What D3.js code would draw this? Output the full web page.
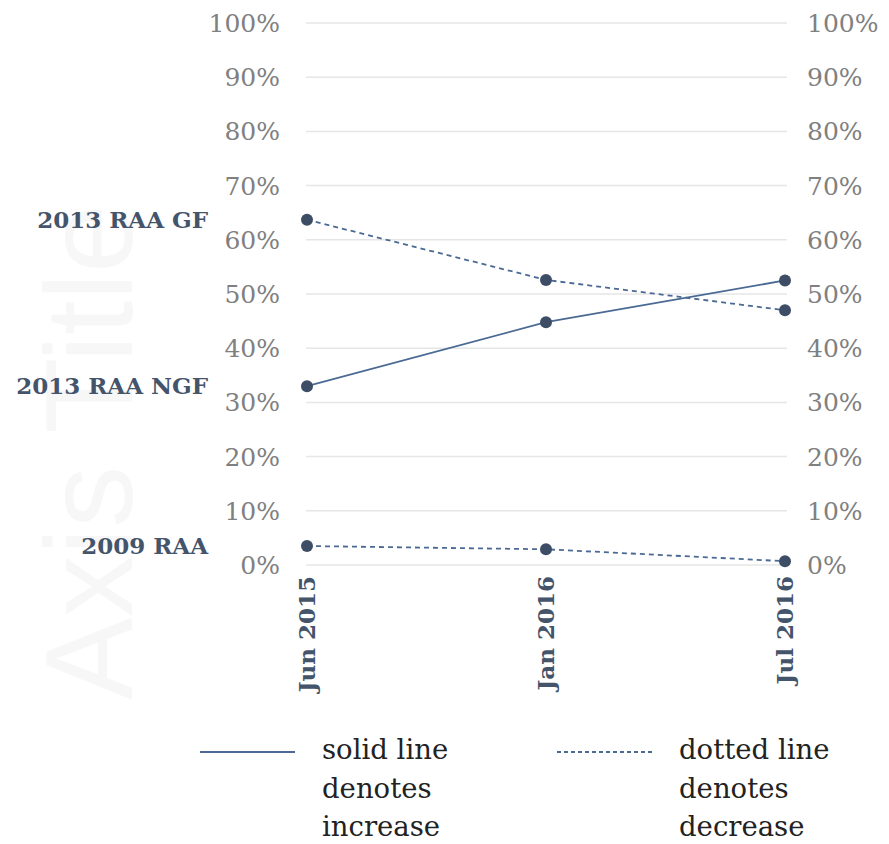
<!DOCTYPE html>
<html>
<head>
<meta charset="utf-8">
<script src="https://cdn.jsdelivr.net/npm/d3@7"></script>
<style>
  body { margin: 0; background: #fff; }
  svg { display: block; }
  .tick-label { font-family: "DejaVu Serif", serif; font-size: 25px; fill: #808080; }
  .cat-label { font-family: "DejaVu Serif", serif; font-weight: bold; font-size: 23px; fill: #44546a; }
  .legend-text { font-family: "DejaVu Serif", serif; font-size: 27.5px; fill: #222; }
</style>
</head>
<body>
<div id="chart-area"></div>
<script>
// data
var periods = ["Jun 2015", "Jan 2016", "Jul 2016"];
var seriesNames = ["2013 RAA GF", "2013 RAA NGF", "2009 RAA"];
var gfValues = [0.637, 0.526, 0.470];
var ngfValues = [0.330, 0.448, 0.525];
var raa2009Values = [0.035, 0.029, 0.007];
var yTicks = [0, 0.1, 0.2, 0.3, 0.4, 0.5, 0.6, 0.7, 0.8, 0.9, 1];
var legendLabels = [["solid line", "denotes", "increase"], ["dotted line", "denotes", "decrease"]];

var seriesList = [
	{name: seriesNames[0], values: gfValues, dashed: true},
	{name: seriesNames[1], values: ngfValues, dashed: false},
	{name: seriesNames[2], values: raa2009Values, dashed: true}
];

//svg setting
var W = 889, H = 844;
var svg = d3.select("#chart-area")
	.append("svg")
		.attr("width", W)
		.attr("height", H);

//scales
var x = d3.scalePoint().domain(periods).range([307, 785]);
var y = d3.scaleLinear().domain([0, 1]).range([565, 23]);

var lineColor = "#4b6a93", dotColor = "#3e4d66";

// watermark axis title (very faint)
svg.append("text")
	.attr("transform", "translate(132,452) rotate(-90)")
	.attr("text-anchor", "middle")
	.style("font-family", "Liberation Sans, Arial, sans-serif")
	.style("font-size", "124px")
	.attr("fill", "#f7f7f7")
	.text("Axis Title");

//gridlines
svg.append("g").selectAll("line")
	.data(yTicks)
	.enter().append("line")
		.attr("x1", 306).attr("x2", 787)
		.attr("y1", d => y(d)).attr("y2", d => y(d))
		.attr("stroke", "#e6e6e6")
		.attr("stroke-width", 1.5);

//left + right tick labels
var fmt = d3.format(".0%");
svg.append("g").selectAll("text")
	.data(yTicks)
	.enter().append("text")
		.attr("class", "tick-label")
		.attr("x", 280)
		.attr("y", d => y(d))
		.attr("dy", "0.36em")
		.attr("text-anchor", "end")
		.text(fmt);
svg.append("g").selectAll("text")
	.data(yTicks)
	.enter().append("text")
		.attr("class", "tick-label")
		.attr("x", 807)
		.attr("y", d => y(d))
		.attr("dy", "0.36em")
		.attr("text-anchor", "start")
		.text(fmt);

//x labels (rotated)
svg.append("g").selectAll("text")
	.data(periods)
	.enter().append("text")
		.attr("class", "cat-label")
		.attr("transform", d => "translate(" + (x(d) + 8) + ",576) rotate(-90)")
		.attr("text-anchor", "end")
		.text(d => d);

//lines
var line = d3.line()
	.x((d, i) => x(periods[i]))
	.y(d => y(d));

var series = svg.append("g").selectAll("g")
	.data(seriesList)
	.enter().append("g");

series.append("path")
	.attr("fill", "none")
	.attr("stroke", lineColor)
	.attr("stroke-width", 1.8)
	.attr("stroke-dasharray", d => d.dashed ? "5,4" : null)
	.attr("d", d => line(d.values));

series.selectAll("circle")
	.data(d => d.values)
	.enter().append("circle")
		.attr("cx", (d, i) => x(periods[i]))
		.attr("cy", d => y(d))
		.attr("r", 6)
		.attr("fill", dotColor);

//series labels at first point
series.append("text")
	.attr("class", "cat-label")
	.attr("x", 208)
	.attr("y", d => y(d.values[0]))
	.attr("dy", "0.36em")
	.attr("text-anchor", "end")
	.text(d => d.name);

//legend
var legendX = [200, 557];
var legend = svg.append("g").selectAll("g")
	.data(legendLabels)
	.enter().append("g")
		.attr("transform", (d, i) => "translate(" + legendX[i] + ",0)");

legend.append("line")
	.attr("x1", 0).attr("x2", 95)
	.attr("y1", 752).attr("y2", 752)
	.attr("stroke", lineColor)
	.attr("stroke-width", 1.8)
	.attr("stroke-dasharray", (d, i) => i == 1 ? "4,3" : null);

legend.each(function(lines) {
	var t = d3.select(this).append("text")
		.attr("class", "legend-text")
		.attr("x", 122)
		.attr("y", 759);
	lines.forEach((s, j) => {
		t.append("tspan")
			.attr("x", 122)
			.attr("dy", j == 0 ? 0 : 38.5)
			.text(s);
	});
});
</script>
</body>
</html>
